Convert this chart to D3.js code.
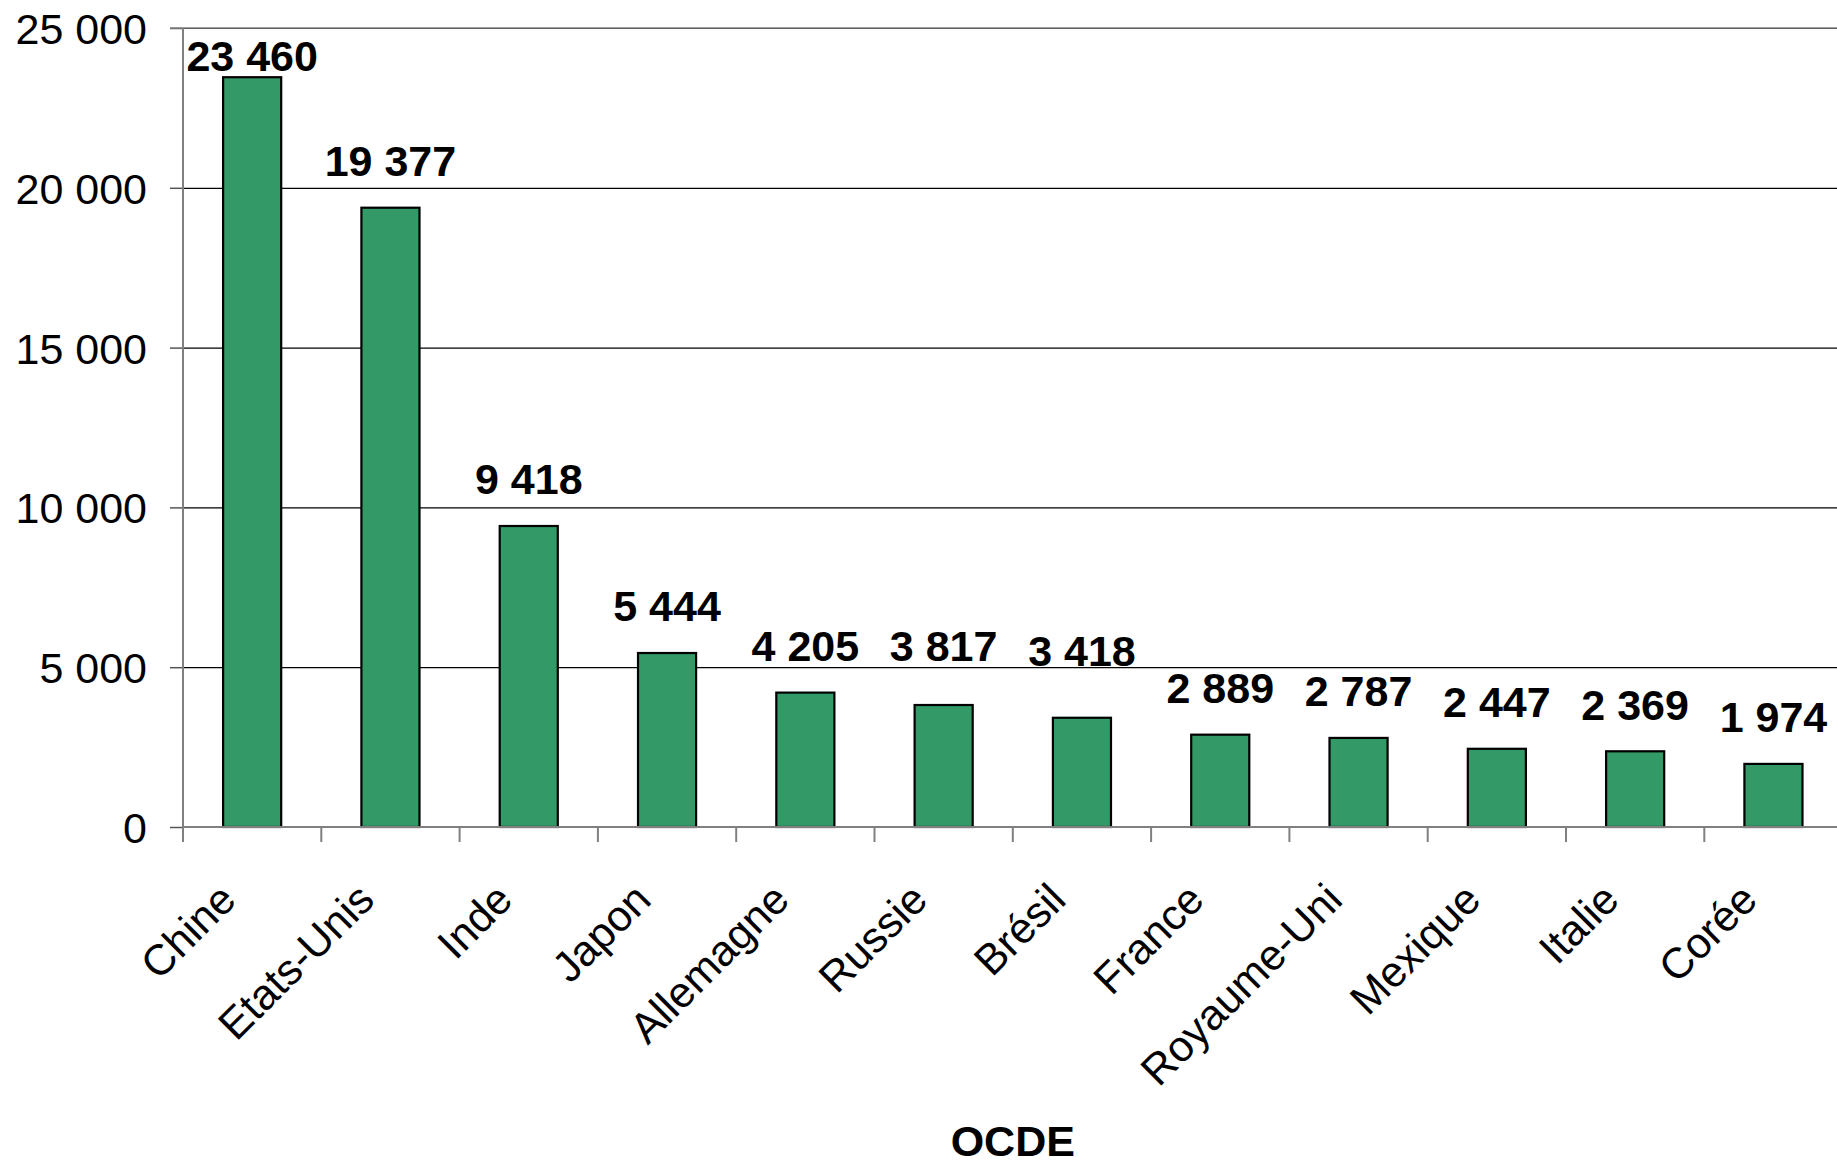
<!DOCTYPE html>
<html>
<head>
<meta charset="utf-8">
<script src="https://cdn.jsdelivr.net/npm/d3@7"></script>
<style>
  html, body { margin: 0; padding: 0; background: #fff; }
  svg { display: block; font-family: "Liberation Sans", Arial, sans-serif; }
</style>
</head>
<body>
<svg id="chart" width="1837" height="1167"></svg>
<script>
// ---- data ----
const categories = ["Chine", "Etats-Unis", "Inde", "Japon", "Allemagne", "Russie", "Brésil", "France", "Royaume-Uni", "Mexique", "Italie", "Corée"];
const values = [23460, 19377, 9418, 5444, 4205, 3817, 3418, 2889, 2787, 2447, 2369, 1974];
const yTicks = [0, 5000, 10000, 15000, 20000, 25000];
const xTitle = "OCDE";

(function () {
// ---- layout ----
const plotLeft = 183, plotTop = 28, plotBottom = 827;
const step = 138.3;
const plotRight = plotLeft + categories.length * step;

const svg = d3.select("#chart");
const fmt = d3.formatLocale({ decimal: ",", thousands: " ", grouping: [3], currency: ["", "€"] }).format(",");

const x = d3.scaleBand().domain(categories).range([plotLeft, plotRight]).paddingInner(0.58).paddingOuter(0.29);
const y = d3.scaleLinear().domain([0, 25000]).range([plotBottom, plotTop]);

// gridlines
svg.append("g")
  .attr("transform", `translate(${plotLeft},0)`)
  .call(d3.axisLeft(y).tickValues(yTicks).tickSize(-(plotRight - plotLeft)).tickFormat(""))
  .call(g => g.select(".domain").remove())
  .call(g => g.selectAll(".tick line").attr("stroke", "#000").attr("stroke-width", 1.2));

// y axis with ticks & labels
svg.append("g")
  .attr("transform", `translate(${plotLeft},0)`)
  .call(d3.axisLeft(y).tickValues(yTicks).tickSize(13).tickPadding(23).tickFormat(fmt))
  .call(g => g.select(".domain").remove())
  .call(g => g.selectAll(".tick line").attr("stroke", "#555").attr("stroke-width", 1.5))
  .call(g => g.selectAll(".tick text")
    .attr("font-family", "Liberation Sans, Arial, sans-serif")
    .attr("font-size", 43).attr("fill", "#000").attr("dy", "0.36em"));

// bars
svg.append("g").selectAll("rect").data(categories).join("rect")
  .attr("x", d => x(d))
  .attr("y", (d, i) => y(values[i]))
  .attr("width", x.bandwidth())
  .attr("height", (d, i) => y(0) - y(values[i]))
  .attr("fill", "#339966")
  .attr("stroke", "#000")
  .attr("stroke-width", 2.2);

// axis lines (gray)
svg.append("line").attr("x1", plotLeft).attr("x2", plotLeft).attr("y1", plotTop).attr("y2", plotBottom + 15)
  .attr("stroke", "#808080").attr("stroke-width", 2);
svg.append("line").attr("x1", plotLeft).attr("x2", plotRight).attr("y1", plotBottom).attr("y2", plotBottom)
  .attr("stroke", "#808080").attr("stroke-width", 2);
svg.append("line").attr("x1", plotLeft - 13).attr("x2", plotRight).attr("y1", plotTop).attr("y2", plotTop)
  .attr("stroke", "#808080").attr("stroke-width", 1.5);

// category boundary ticks
svg.append("g").selectAll("line").data(d3.range(categories.length + 1)).join("line")
  .attr("x1", i => plotLeft + i * x.step())
  .attr("x2", i => plotLeft + i * x.step())
  .attr("y1", plotBottom).attr("y2", plotBottom + 15)
  .attr("stroke", "#808080").attr("stroke-width", 2);

// category labels (rotated)
svg.append("g").selectAll("text").data(categories).join("text")
  .attr("transform", d => `translate(${x(d) + x.bandwidth() / 2 - 14},${plotBottom + 75}) rotate(-45)`)
  .attr("text-anchor", "end")
  .attr("font-size", 43)
  .attr("fill", "#000")
  .text(d => d);

// data labels
const labelNudge = { "Russie": -12.6, "Brésil": -20.4 };
svg.append("g").selectAll("text").data(categories).join("text")
  .attr("x", d => x(d) + x.bandwidth() / 2)
  .attr("y", (d, i) => Math.max(y(values[i]) - 31.7, y(25000) + 43) + (labelNudge[d] || 0))
  .attr("text-anchor", "middle")
  .attr("font-size", 43)
  .attr("font-weight", "bold")
  .attr("fill", "#000")
  .text((d, i) => fmt(values[i]));

// x title
svg.append("text")
  .attr("x", (plotLeft + plotRight) / 2)
  .attr("y", 1156)
  .attr("text-anchor", "middle")
  .attr("font-size", 43)
  .attr("font-weight", "bold")
  .text(xTitle);
})();
</script>
</body>
</html>
